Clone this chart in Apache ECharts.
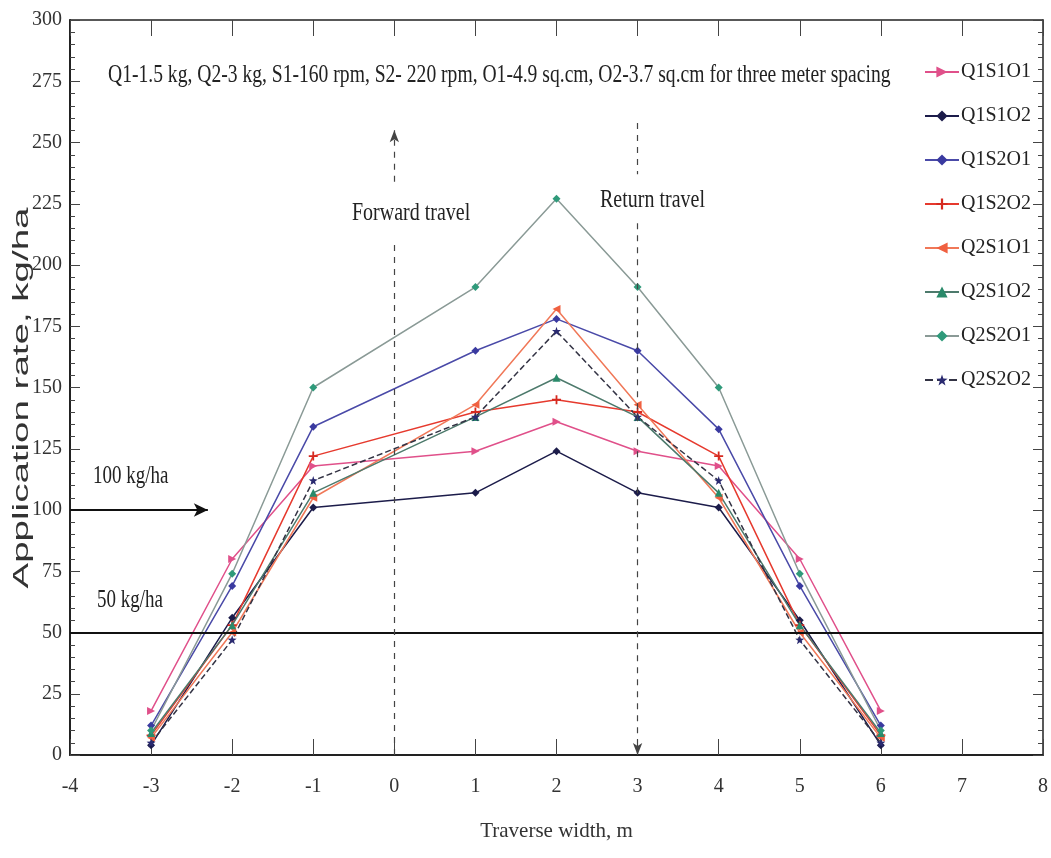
<!DOCTYPE html>
<html><head><meta charset="utf-8">
<script src="https://cdn.jsdelivr.net/npm/echarts@6/dist/echarts.min.js"></script>
<style>html,body{margin:0;padding:0;background:#fff}#c{width:1051px;height:858px}</style>
</head><body><div id="c"></div>
<script>
const xPositions = [-3, -2, -1, 1, 2, 3, 4, 5, 6];
const seriesNames = ['Q1S1O1','Q1S1O2','Q1S2O1','Q1S2O2','Q2S1O1','Q2S1O2','Q2S2O1','Q2S2O2'];
const Q1S1O1 = [18, 80, 118, 124, 136, 124, 118, 80, 18];
const Q1S1O2 = [4, 56, 101, 107, 124, 107, 101, 55, 4];
const Q1S2O1 = [12, 69, 134, 165, 178, 165, 133, 69, 12];
const Q1S2O2 = [8, 53, 122, 140, 145, 140, 122, 53, 8];
const Q2S1O1 = [7, 50, 105, 143, 182, 143, 105, 50, 7];
const Q2S1O2 = [9, 53, 107, 138, 154, 138, 107, 53, 9];
const Q2S2O1 = [10, 74, 150, 191, 227, 191, 150, 74, 10];
const Q2S2O2 = [5, 47, 112, 138, 173, 138, 112, 47, 5];
const yTicks = [0, 25, 50, 75, 100, 125, 150, 175, 200, 225, 250, 275, 300];
const xTicks = [-4, -3, -2, -1, 0, 1, 2, 3, 4, 5, 6, 7, 8];

const values = [Q1S1O1, Q1S1O2, Q1S2O1, Q1S2O2, Q2S1O1, Q2S1O2, Q2S2O1, Q2S2O2];
const PLUS = 'path://M4,0H6V4H10V6H6V10H4V6H0V4H4Z';
const STAR = 'path://M5,0L6.2,3.6L10,3.8L7,6.1L8.1,10L5,7.7L1.9,10L3,6.1L0,3.8L3.8,3.6Z';
const styles = [
  {line:'#e0508a', mark:'#e0508a', sym:'triangle', rot:-90, size:8, dash:'solid'},
  {line:'#1c1c4a', mark:'#1c1c4a', sym:'diamond', rot:0, size:8, dash:'solid'},
  {line:'#4a4aa8', mark:'#3a3aa0', sym:'diamond', rot:0, size:8, dash:'solid'},
  {line:'#e63a2e', mark:'#d62a20', sym:PLUS, rot:0, size:9, dash:'solid'},
  {line:'#f07858', mark:'#f06040', sym:'triangle', rot:90, size:8, dash:'solid'},
  {line:'#4d7a6c', mark:'#2a8a6a', sym:'triangle', rot:0, size:8, dash:'solid'},
  {line:'#8a9a96', mark:'#2f9a7a', sym:'diamond', rot:0, size:8, dash:'solid'},
  {line:'#333344', mark:'#2a2a70', sym:STAR, rot:0, size:9, dash:'dashed'}
];
const SERIF = "'Liberation Serif','Times New Roman',serif";

const series = seriesNames.map((n, i) => ({
  name: n, type: 'line', xAxisIndex: 0, yAxisIndex: 0,
  data: xPositions.map((x, j) => [x, values[i][j]]),
  symbol: styles[i].sym, symbolRotate: styles[i].rot, symbolSize: styles[i].size,
  lineStyle: {color: styles[i].line, width: 1.5, type: styles[i].dash},
  itemStyle: {color: styles[i].mark},
  z: 3
}));

series.push({
  type: 'line', data: [], silent: true, xAxisIndex: 0, yAxisIndex: 0,
  markLine: {
    silent: true, animation: false,
    symbol: ['none','none'],
    label: {show: false},
    data: [
      [{coord: [-4, 50], symbol:'none', lineStyle:{color:'#111', width:2, type:'solid'}}, {coord: [8, 50], symbol:'none'}],
      [{coord: [-4, 100], symbol:'none', lineStyle:{color:'#111', width:2, type:'solid'}}, {coord: [-2.3, 100], symbol:'arrow', symbolSize:[10,14]}],
      [{coord: [0, 234], symbol:'none', lineStyle:{color:'#444', width:1.2, type:[6,6]}}, {coord: [0, 255], symbol:'arrow', symbolSize:[7,12]}],
      [{coord: [0, 0], symbol:'none', lineStyle:{color:'#444', width:1.2, type:[6,6]}}, {coord: [0, 210], symbol:'none'}],
      [{coord: [3, 258], symbol:'none', lineStyle:{color:'#444', width:1.2, type:[6,6]}}, {coord: [3, 237], symbol:'none'}],
      [{coord: [3, 217], symbol:'none', lineStyle:{color:'#444', width:1.2, type:[6,6]}}, {coord: [3, 0], symbol:'arrow', symbolSize:[7,12]}]
    ]
  }
});

const serifText = (txt, x, y, size, sy) => ({
  type: 'text', x: x, y: y, scaleY: sy, silent: true,
  style: {text: txt, font: size + "px 'Liberation Serif'", fill: '#222', textAlign: 'left', textVerticalAlign: 'middle'}
});

const chart = echarts.init(document.getElementById('c'));
chart.setOption({
  animation: false,
  backgroundColor: '#fff',
  grid: {left: 70, right: 8, top: 20, bottom: 103, containLabel: false, outerBoundsMode: 'none'},
  legend: {
    data: seriesNames, orient: 'vertical', left: 919, top: 57,
    itemWidth: 34, itemHeight: 14, itemGap: 24,
    textStyle: {fontFamily: SERIF, fontSize: 20, color: '#222', padding:[0,0,0,-3]}
  },
  xAxis: [{
    type: 'value', min: -4, max: 8, interval: 1, position: 'bottom',
    name: 'Traverse width, m', nameLocation: 'middle', nameGap: 66,
    nameTextStyle: {fontFamily: SERIF, fontSize: 21, color: '#333'},
    axisLine: {onZero: false, lineStyle: {color: '#222', width: 2}},
    axisTick: {inside: true, length: 16, lineStyle: {color: '#444'}},
    axisLabel: {fontFamily: SERIF, fontSize: 20, color: '#333', margin: 22},
    splitLine: {show: false}
  }, {
    type: 'value', min: -4, max: 8, interval: 1, position: 'top',
    axisLine: {onZero: false, lineStyle: {color: '#222', width: 1.5}},
    axisTick: {inside: true, length: 16, lineStyle: {color: '#444'}},
    axisLabel: {show: false}, splitLine: {show: false}
  }],
  yAxis: [{
    type: 'value', min: 0, max: 300, interval: 25, position: 'left',
    axisLine: {onZero: false, lineStyle: {color: '#222', width: 2}},
    axisTick: {inside: true, length: 10, lineStyle: {color: '#444'}},
    minorTick: {show: true, splitNumber: 5, length: 5, lineStyle: {color: '#444'}},
    axisLabel: {fontFamily: SERIF, fontSize: 20, color: '#333', margin: 8},
    splitLine: {show: false}
  }, {
    type: 'value', min: 0, max: 300, interval: 25, position: 'right',
    axisLine: {onZero: false, lineStyle: {color: '#222', width: 1.5}},
    axisTick: {inside: true, length: 10, lineStyle: {color: '#444'}},
    minorTick: {show: true, splitNumber: 5, length: 5, lineStyle: {color: '#444'}},
    axisLabel: {show: false}, splitLine: {show: false}
  }],
  graphic: [
    {type:'text', x: 22, y: 398, rotation: Math.PI / 2, scaleX: 1.75, silent: true,
     style:{text:'Application rate, kg/ha', font:"22px 'Liberation Sans'", fill:'#333', textAlign:'center', textVerticalAlign:'middle'}},
    serifText('Q1-1.5 kg, Q2-3 kg, S1-160 rpm, S2- 220 rpm, O1-4.9 sq.cm, O2-3.7 sq.cm for three meter spacing', 108, 75, 19.6, 1.3),
    serifText('Forward travel', 352, 213, 20, 1.3),
    serifText('Return travel', 600, 200, 20, 1.3),
    serifText('100 kg/ha', 93, 476, 19, 1.35),
    serifText('50 kg/ha', 97, 600, 19, 1.35)
  ],
  series: series
});
</script></body></html>
